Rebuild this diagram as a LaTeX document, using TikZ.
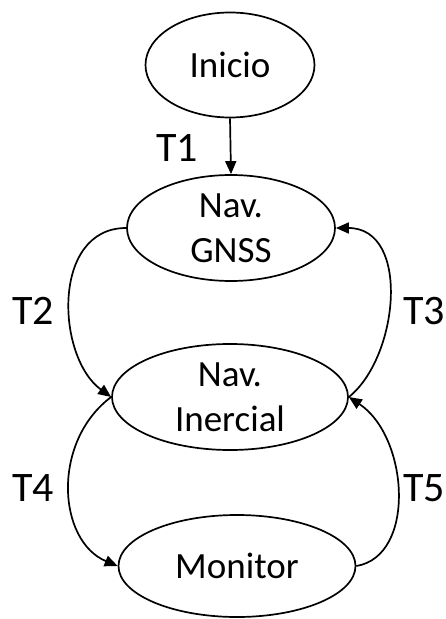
\documentclass[tikz,border=0pt]{standalone}
\usepackage{fontspec}
\setmainfont{Carlito}
\usetikzlibrary{shapes.geometric,arrows.meta}
\begin{document}
\begin{tikzpicture}[x=1bp,y=-1bp,
  state/.style={ellipse,draw,line width=1.7bp,inner sep=0pt,align=center,
    font=\fontsize{37bp}{45bp}\selectfont},
  trans/.style={line width=1.7bp,-{Triangle[length=13bp,width=11bp]}},
  tlabel/.style={font=\fontsize{42bp}{50bp}\selectfont,inner sep=0pt}]
\useasboundingbox (0,0) rectangle (446,619);
% states
\node[state,minimum width=169bp,minimum height=105bp] (inicio) at (230,65) {Inicio};
\node[state,minimum width=208bp,minimum height=106bp] (gnss) at (231,228) {Nav.\\GNSS};
\node[state,minimum width=236bp,minimum height=106bp] (inercial) at (230,397) {Nav.\\Inercial};
\node[state,minimum width=237bp,minimum height=102bp] (monitor) at (237,566) {Monitor};
% transitions
\draw[trans] (inicio.south) -- (gnss.north);
\draw[trans] (gnss.west) .. controls +(-75,0) and +(-55,-40) .. (inercial.west);
\draw[trans] (inercial.east) .. controls +(50,-40) and +(75,0) .. (gnss.east);
\draw[trans] (inercial.west) .. controls +(-60,45) and +(-60,-25) .. (monitor.west);
\draw[trans] (monitor.east) .. controls +(60,-10) and +(60,40) .. (inercial.east);
% labels
\node[tlabel] (t1) at (177,148) {T1};
\node[tlabel] (t2) at (33,311) {T2};
\node[tlabel,anchor=east] (t3) at (445,311) {T3};
\node[tlabel] (t4) at (33,488) {T4};
\node[tlabel,anchor=east] (t5) at (445,488) {T5};
\end{tikzpicture}
\end{document}
